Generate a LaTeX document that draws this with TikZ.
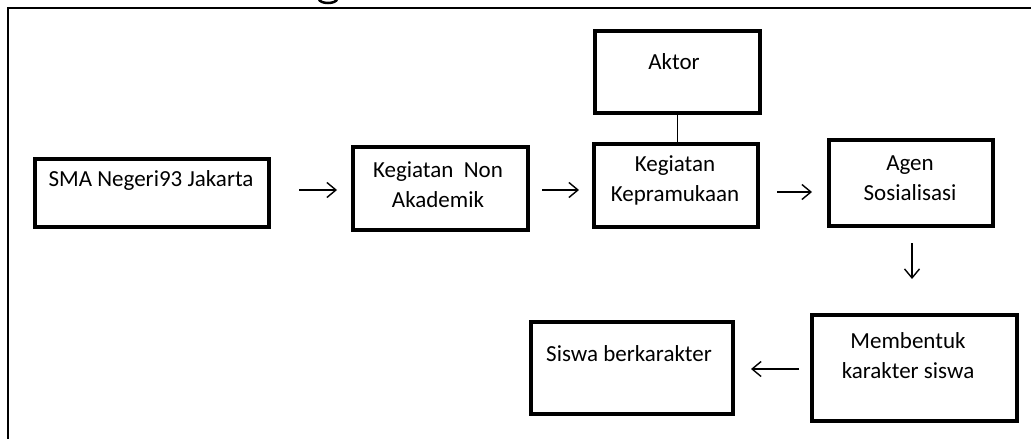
\documentclass[tikz,border=0pt]{standalone}
\usepackage{fontspec}
\setmainfont{Carlito}
\usetikzlibrary{arrows.meta}
\begin{document}
\begin{tikzpicture}[x=1pt,y=-1pt,
  box/.style={draw, line width=4pt, inner sep=0pt, outer sep=0pt},
  lbl/.style={align=center, font=\fontsize{23}{30}\selectfont, inner sep=0pt},
  arr/.style={line width=1.4pt, -{Straight Barb[length=9pt,width=15pt,line width=1.4pt]}},
  link/.style={line width=1.4pt}]
\useasboundingbox (0,0) rectangle (1031,439);
\clip (0,0) rectangle (1031,439);
% cut-off caption fragment (bottom of a glyph above the frame)
\draw[line width=2.5pt] (319pt,1pt) arc[start angle=180, end angle=360, x radius=9pt, y radius=4pt];
% outer frame (only top and left edges are visible)
\draw[line width=2.2pt] (8,445) -- (8,8) -- (1040,8);
% boxes
\node[box, minimum width=234pt, minimum height=68pt] (sma)   at (152,193) {};
\node[box, minimum width=175pt, minimum height=83pt] (non)   at (440.5,188.5) {};
\node[box, minimum width=165pt, minimum height=82pt] (aktor) at (677.5,72) {};
\node[box, minimum width=164pt, minimum height=83pt] (kep)   at (676,185.5) {};
\node[box, minimum width=164pt, minimum height=86pt] (agen)  at (911,183) {};
\node[box, minimum width=205pt, minimum height=106pt] (memb) at (914.5,368) {};
\node[box, minimum width=202pt, minimum height=92pt] (siswa) at (632,368) {};
% texts
\node[lbl] (tsma)   at (151,180)   {SMA Negeri93 Jakarta};
\node[lbl] (tnon)   at (438,184.5) {Kegiatan~ Non\\Akademik};
\node[lbl] (taktor) at (674,62)    {Aktor};
\node[lbl] (tkep)   at (675,180)   {Kegiatan\\Kepramukaan};
\node[lbl] (tagen)  at (910,178)   {Agen\\Sosialisasi};
\node[lbl] (tmemb)  at (908,356)   {Membentuk\\karakter siswa};
\node[lbl] (tsiswa) at (629,354)   {Siswa berkarakter};
% connectors
\draw[arr] ([xshift=-54pt,yshift=-1.5pt]non.west) -- ([xshift=-16pt,yshift=-1.5pt]non.west);
\draw[arr] ([xshift=-52pt,yshift=-4.5pt]kep.west) -- ([xshift=-15pt,yshift=-4.5pt]kep.west);
\draw[arr] ([xshift=-52pt,yshift=-9pt]agen.west) -- ([xshift=-17pt,yshift=-9pt]agen.west);
\draw[arr] ([xshift=1pt,yshift=-17pt]agen.south) -- ([xshift=1pt,yshift=-53pt]agen.south);
\draw[arr] ([xshift=-13pt,yshift=-1pt]memb.west) -- ([xshift=18pt,yshift=-1pt]siswa.east);
\draw[link] (aktor.south) -- (aktor.south |- kep.north);
\end{tikzpicture}
\end{document}
